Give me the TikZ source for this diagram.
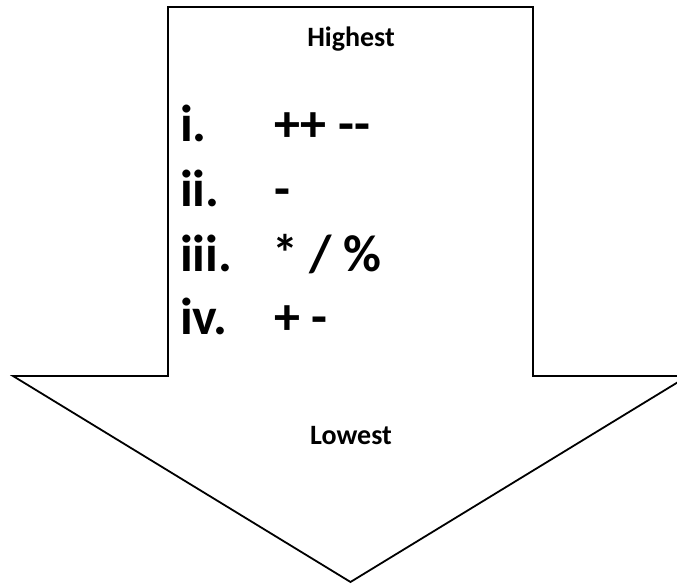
\documentclass[tikz,border=0pt]{standalone}
\usepackage{fontspec}
\setmainfont{Carlito}[BoldFont={Carlito Bold},Ligatures=NoCommon]
\begin{document}
\begin{tikzpicture}[x=1pt,y=1pt,
  arrowshape/.style={draw=black,line width=1.8pt,line join=miter,fill=white},
  small/.style={font=\bfseries\fontsize{28}{32}\selectfont,inner sep=0pt},
  big/.style={font=\bfseries\fontsize{52}{60}\selectfont,inner sep=0pt,anchor=base west}]
\useasboundingbox (0,0) rectangle (677,585);
\clip (0,0) rectangle (677,585);
\draw[arrowshape] (168,578) -- (533,578) -- (533,209) -- (688,209) -- (350.5,3) -- (13,209) -- (168,209) -- cycle;
\node[small] (hi) at (351,546) {Highest};
\node[small] (lo) at (351,149) {Lowest};
\node[big] (l1) at (180,443) {i.};
\node[big] (l2) at (180,378) {ii.};
\node[big] (l3) at (180,313) {iii.};
\node[big] (l4) at (180,250) {iv.};
\node[big] (o1) at (274,443) {++ -{}-};
\node[big] (o2) at (274,378) {-};
\node[big] (o3) at (272,313) {* / \%};
\node[big] (o4) at (274,250) {+ -};
\end{tikzpicture}
\end{document}
